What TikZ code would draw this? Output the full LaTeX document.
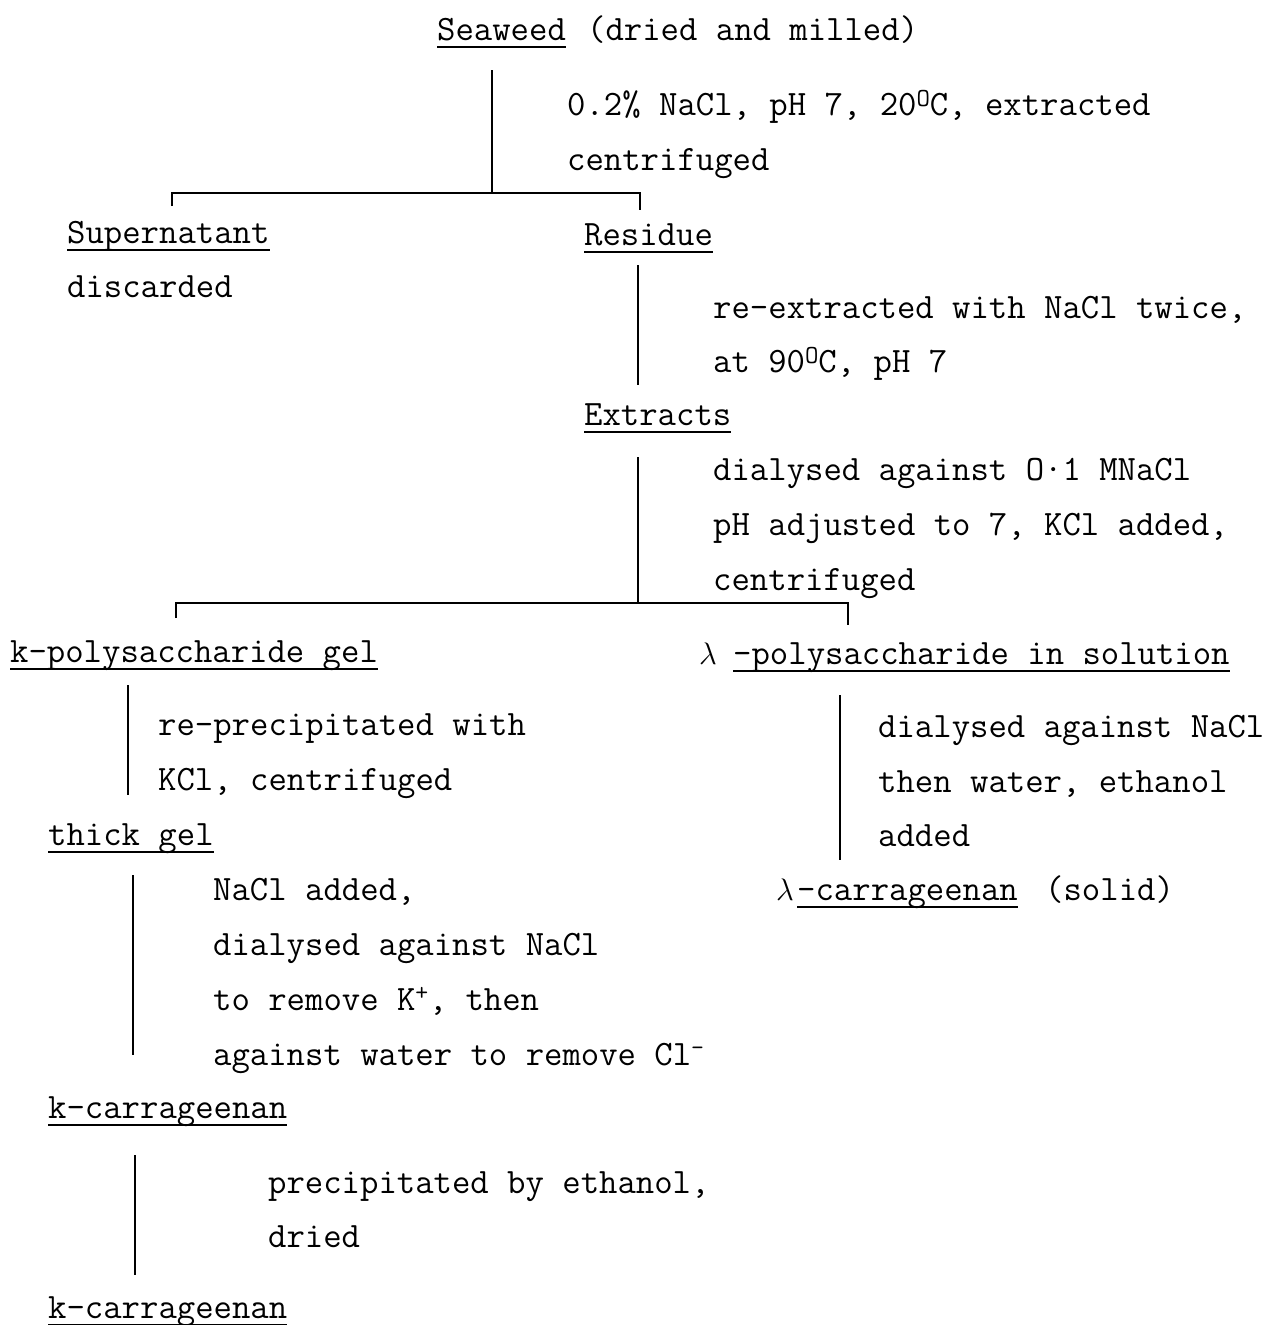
\documentclass[tikz,border=0pt]{standalone}
\usepackage{graphicx}
\begin{document}
\begin{tikzpicture}[x=1pt,y=-1pt,
  txt/.style={anchor=base west,inner sep=0pt,font=\fontsize{35.7}{40}\selectfont\ttfamily},
  conn/.style={line width=1.7pt},
  ul/.style={line width=1.5pt}]
\useasboundingbox (0,0) rectangle (1269,1325);
\newcommand{\ulnode}[1]{\draw[ul] ([yshift=-7pt]#1.base west) -- ([yshift=-7pt]#1.base east);}
\newcommand{\supO}{\raisebox{0.55ex}{\fontsize{26}{26}\selectfont O}}
\newcommand{\lam}{\scalebox{1.25}{$\mathrm{\lambda}$}}
% level 0
\node[txt] (sea) at (437,40) {Seaweed};
\node[txt] (seab) at (587,40) {(dried and milled)};
\ulnode{sea}
\node[txt] (p1a) at (567,115) {0.2\% NaCl, pH 7, 20\supO C, extracted};
\node[txt] (p1b) at (567,170) {centrifuged};
% level 1
\node[txt] (sup) at (67,243) {Supernatant};
\ulnode{sup}
\node[txt] (disc) at (67,297) {discarded};
\node[txt] (res) at (584,245) {Residue};
\ulnode{res}
\node[txt] (p2a) at (713,318) {re-extracted with NaCl twice,};
\node[txt] (p2b) at (713,372) {at 90\supO C, pH 7};
\node[txt] (ext) at (584,425) {Extracts};
\ulnode{ext}
\node[txt] (p3a) at (713,480) {dialysed against O\textperiodcentered 1 MNaCl};
\node[txt] (p3b) at (713,535) {pH adjusted to 7, KCl added,};
\node[txt] (p3c) at (713,590) {centrifuged};
% level 2
\node[txt] (kgel) at (10,662) {k-polysaccharide gel};
\ulnode{kgel}
\node[txt] (lam1) at (699,664) {\lam};
\node[txt] (lsol) at (733,664) {-polysaccharide in solution};
\ulnode{lsol}
\node[txt] (p4a) at (158,735) {re-precipitated with};
\node[txt] (p4b) at (158,790) {KCl, centrifuged};
\node[txt] (thick) at (48,845) {thick gel};
\ulnode{thick}
\node[txt] (p5a) at (213,900) {NaCl added,};
\node[txt] (p5b) at (213,955) {dialysed against NaCl};
\node[txt] (p5c) at (213,1010) {to remove K\textsuperscript{+}, then};
\node[txt] (p5d) at (213,1065) {against water to remove Cl\textsuperscript{-}};
\node[txt] (kcar) at (48,1118) {k-carrageenan};
\ulnode{kcar}
\node[txt] (p6a) at (268,1193) {precipitated by ethanol,};
\node[txt] (p6b) at (268,1247) {dried};
\node[txt] (kcar2) at (48,1318) {k-carrageenan};
\ulnode{kcar2}
% right branch
\node[txt] (p7a) at (878,737) {dialysed against NaCl};
\node[txt] (p7b) at (878,792) {then water, ethanol};
\node[txt] (p7c) at (878,846) {added};
\node[txt] (lam2) at (776,900) {\lam};
\node[txt] (lcar) at (797,900) {-carrageenan};
\ulnode{lcar}
\node[txt] (solid) at (1045,900) {(solid)};
% connector coordinates
\coordinate (v1t) at (492,70);  \coordinate (v1b) at (492,193);
\coordinate (b1l) at (172,193); \coordinate (b1r) at (640,193);
\coordinate (t1l) at (172,206); \coordinate (t1r) at (640,210);
\coordinate (v2t) at (638,265); \coordinate (v2b) at (638,385);
\coordinate (v3t) at (638,457); \coordinate (v3b) at (638,603);
\coordinate (b2l) at (176,603); \coordinate (b2r) at (848,603);
\coordinate (t2l) at (176,618); \coordinate (t2r) at (848,625);
\coordinate (v4t) at (128,685); \coordinate (v4b) at (128,795);
\coordinate (v5t) at (133,875); \coordinate (v5b) at (133,1055);
\coordinate (v6t) at (135,1155); \coordinate (v6b) at (135,1275);
\coordinate (v7t) at (840,695); \coordinate (v7b) at (840,860);
\draw[conn] (v1t) -- (v1b);
\draw[conn] (t1l) -- (b1l) -- (b1r) -- (t1r);
\draw[conn] (v2t) -- (v2b);
\draw[conn] (v3t) -- (v3b);
\draw[conn] (t2l) -- (b2l) -- (b2r) -- (t2r);
\draw[conn] (v4t) -- (v4b);
\draw[conn] (v5t) -- (v5b);
\draw[conn] (v6t) -- (v6b);
\draw[conn] (v7t) -- (v7b);
\end{tikzpicture}
\end{document}
